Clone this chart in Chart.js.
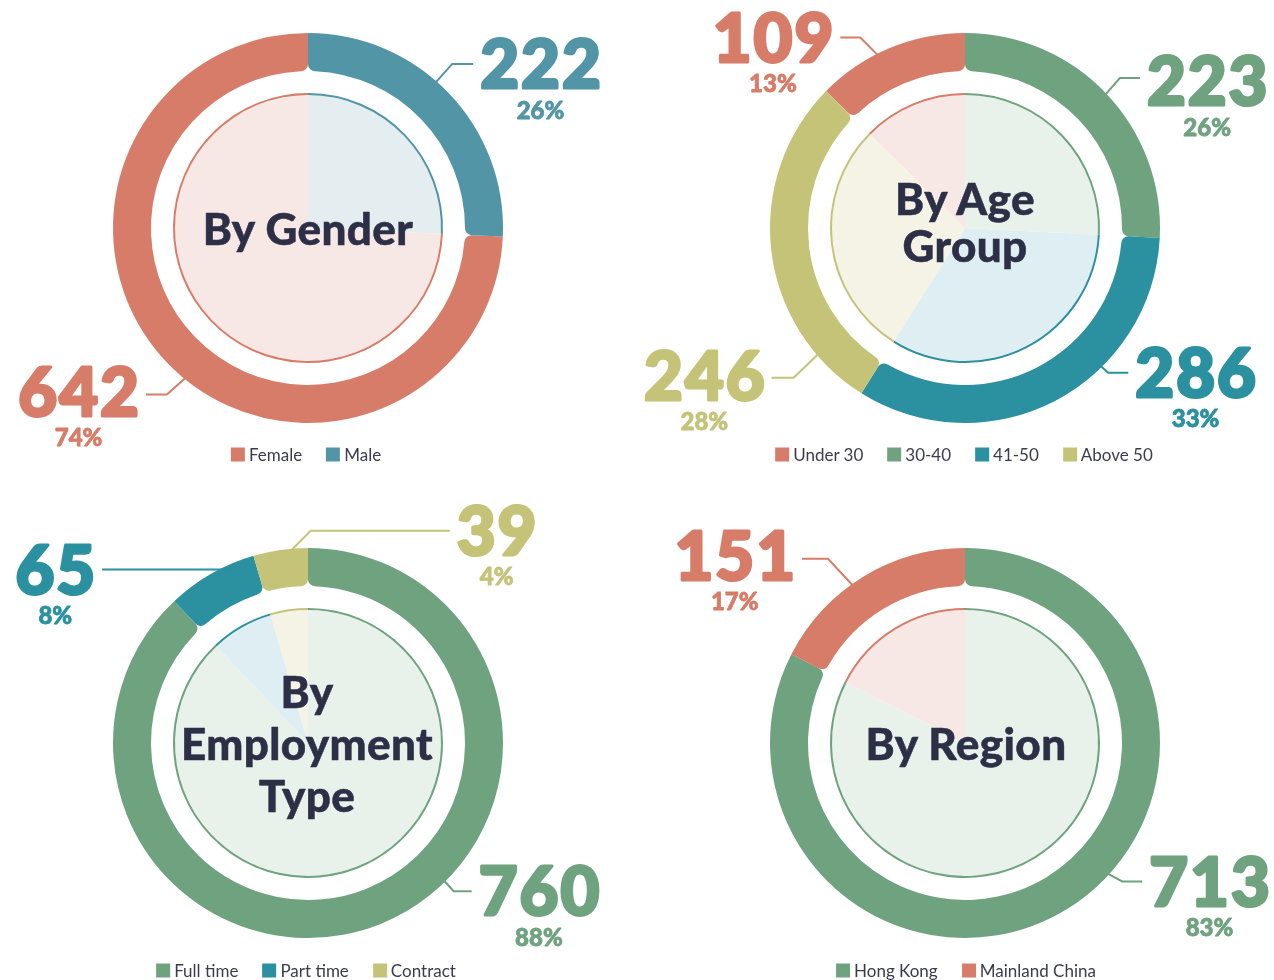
<!DOCTYPE html>
<html><head><meta charset="utf-8">
<script src="https://cdn.jsdelivr.net/npm/chart.js@4.4.1/dist/chart.umd.min.js"></script>
<style>
html,body{margin:0;padding:0;background:#fff;}
#wrap{position:relative;width:1274px;height:980px;overflow:hidden;}
canvas{position:absolute;left:0;top:0;}
.title{position:absolute;transform:translate(-50%,-50%);text-align:center;font-family:Lato;font-weight:900;color:#2d2f47;font-size:44px;letter-spacing:0.4px;-webkit-text-stroke:0.5px #2d2f47;white-space:nowrap;}
.legend{position:absolute;transform:translate(-50%,-50%);display:flex;gap:24px;font-family:Lato;font-size:17px;color:#3b3b4c;white-space:nowrap;}
.legend .item{display:flex;align-items:center;}
.legend i{display:inline-block;width:14px;height:14px;margin-right:4px;}
</style>
</head><body>
<div id="wrap">
<canvas id="c1" width="1274" height="980"></canvas>
<canvas id="c2" width="1274" height="980"></canvas>
<canvas id="c3" width="1274" height="980"></canvas>
<canvas id="c4" width="1274" height="980"></canvas>
</div>
<script>
// ---- data ----
const genderLabels = ['Female', 'Male'];
const genderValues = [642, 222];
const genderPct = ['74%', '26%'];

const ageLabels = ['Under 30', '30-40', '41-50', 'Above 50'];
const ageValues = [109, 223, 286, 246];
const agePct = ['13%', '26%', '33%', '28%'];

const empLabels = ['Full time', 'Part time', 'Contract'];
const empValues = [760, 65, 39];
const empPct = ['88%', '8%', '4%'];

const regionLabels = ['Hong Kong', 'Mainland China'];
const regionValues = [713, 151];
const regionPct = ['83%', '17%'];

// ---- styles ----
const RED = '#D77C68', STEEL = '#5295A6', GREEN = '#6FA37F', TEAL = '#2B909F', OLIVE = '#C5C378';
const L_RED = '#F8E8E5', L_STEEL = '#E4EDF0', L_GREEN = '#E8F1EA', L_TEAL = '#DFEEF2', L_OLIVE = '#F4F3E6';

const leaderPlugin = {
  id: 'leaders',
  afterDraw(chart, args, opts) {
    const ctx = chart.ctx;
    const meta = chart.getDatasetMeta(0);
    const ds = chart.data.datasets[0];
    meta.data.forEach((arc, i) => {
      const L = opts.items[i];
      const p = arc.getProps(['x', 'y', 'startAngle', 'endAngle', 'outerRadius'], true);
      const a = (p.startAngle + p.endAngle) / 2 + L.off * Math.PI / 180;
      const r = p.outerRadius - 2;
      const x0 = p.x + r * Math.cos(a), y0 = p.y + r * Math.sin(a);
      const x1 = x0 + L.ex, y1 = y0 + L.ey, x2 = x1 + L.h;
      const col = ds.backgroundColor[i];
      ctx.save();
      ctx.strokeStyle = col; ctx.lineWidth = 2;
      ctx.beginPath(); ctx.moveTo(x0, y0); ctx.lineTo(x1, y1); ctx.lineTo(x2, y1); ctx.stroke();
      const txt = String(ds.data[i]);
      ctx.font = '900 ' + opts.numSize + 'px Lato';
      ctx.letterSpacing = opts.numSpacing + 'px';
      const w = ctx.measureText(txt).width - opts.numSpacing;
      const tx = L.h >= 0 ? x2 + opts.gap : x2 - opts.gap - w;
      const cy = y1 + (L.ndy || 0);
      ctx.fillStyle = col;
      ctx.lineJoin = 'round';
      ctx.textAlign = 'left'; ctx.textBaseline = 'alphabetic';
      const by = cy + opts.numSize * 0.36;
      ctx.fillText(txt, tx, by);
      ctx.lineWidth = 3; ctx.strokeText(txt, tx, by);
      ctx.letterSpacing = '0px';
      ctx.font = '900 ' + opts.pctSize + 'px Lato';
      ctx.textAlign = 'center';
      const py = cy + opts.pctDy + opts.pctSize * 0.36;
      ctx.fillText(opts.pct[i], tx + w / 2, py);
      ctx.lineWidth = 0.8; ctx.strokeText(opts.pct[i], tx + w / 2, py);
      ctx.restore();
    });
  }
};

function makeChart(id, cx, cy, labels, values, colors, lights, rotation, items, pct) {
  new Chart(document.getElementById(id), {
    type: 'doughnut',
    data: {
      labels: labels,
      datasets: [
        { data: values, backgroundColor: colors, borderWidth: 0, weight: 38,
          borderRadius: { outerStart: 0, outerEnd: 0, innerStart: 7, innerEnd: 7 } },
        { data: [1], backgroundColor: ['rgba(0,0,0,0)'], borderWidth: 0, weight: 22 },
        { data: values, backgroundColor: colors, borderWidth: 0, weight: 2 },
        { data: values, backgroundColor: lights, borderWidth: 0, weight: 133 }
      ]
    },
    options: {
      responsive: false, animation: false, events: [],
      radius: 195, cutout: 0, rotation: rotation,
      layout: { padding: { left: cx - 200, right: 1274 - cx - 200, top: cy - 200, bottom: 980 - cy - 200 } },
      plugins: {
        legend: { display: false }, tooltip: { enabled: false },
        leaders: { items: items, pct: pct, numSize: 67, numSpacing: 2, pctSize: 24, pctDy: 46, gap: 7 }
      }
    },
    plugins: [leaderPlugin]
  });
}

const sum = a => a.reduce((s, v) => s + v, 0);

makeChart('c1', 308, 228, genderLabels, genderValues, [RED, STEEL], [L_RED, L_STEEL],
  genderValues[1] / sum(genderValues) * 360,
  [{ off: -7, ex: -19, ey: 17, h: -21, ndy: -3 }, { off: -5, ex: 17, ey: -19, h: 21 }], genderPct);

makeChart('c2', 965, 228, ageLabels, ageValues, [RED, GREEN, TEAL, OLIVE], [L_RED, L_GREEN, L_TEAL, L_OLIVE],
  -ageValues[0] / sum(ageValues) * 360,
  [{ off: -4, ex: -18, ey: -18, h: -20 }, { off: 0, ex: 15, ey: -17, h: 20, ndy: 3 },
   { off: -17, ex: 8, ey: 7, h: 20 }, { off: -34, ex: -25, ey: 24, h: -22, ndy: -2 }], agePct);

makeChart('c3', 308, 743, empLabels, empValues, [GREEN, TEAL, OLIVE], [L_GREEN, L_TEAL, L_OLIVE], 0,
  [{ off: -23, ex: 10, ey: 11, h: 18 }, { off: 6, ex: 0, ey: 3, h: -128 }, { off: 3, ex: 20, ey: -20, h: 139 }], empPct);

makeChart('c4', 965, 743, regionLabels, regionValues, [GREEN, RED], [L_GREEN, L_RED], 0,
  [{ off: -16, ex: 15, ey: 8, h: 20 }, { off: -4, ex: -25, ey: -27, h: -26, ndy: -3 }], regionPct);

// ---- titles and legends (HTML text) ----
const wrap = document.getElementById('wrap');
function addTitle(lines, x, y, lh) {
  const d = document.createElement('div');
  d.className = 'title';
  d.style.left = x + 'px'; d.style.top = y + 'px'; d.style.lineHeight = lh + 'px';
  d.innerHTML = lines.join('<br>');
  wrap.appendChild(d);
}
function addLegend(labels, colors, x, y) {
  const d = document.createElement('div');
  d.className = 'legend';
  d.style.left = x + 'px'; d.style.top = y + 'px';
  labels.forEach((l, i) => {
    const it = document.createElement('span'); it.className = 'item';
    const b = document.createElement('i'); b.style.background = colors[i];
    it.appendChild(b); it.appendChild(document.createTextNode(l));
    d.appendChild(it);
  });
  wrap.appendChild(d);
}
addTitle(['By Gender'], 308, 228, 48);
addTitle(['By Age', 'Group'], 965, 222, 47);
addTitle(['By', 'Employment', 'Type'], 307, 743, 52);
addTitle(['By Region'], 966, 743, 48);
addLegend(genderLabels, [RED, STEEL], 306, 454);
addLegend(ageLabels, [RED, GREEN, TEAL, OLIVE], 964, 454);
addLegend(empLabels, [GREEN, TEAL, OLIVE], 306, 970);
addLegend(regionLabels, [GREEN, RED], 966, 970);
</script>
</body></html>
